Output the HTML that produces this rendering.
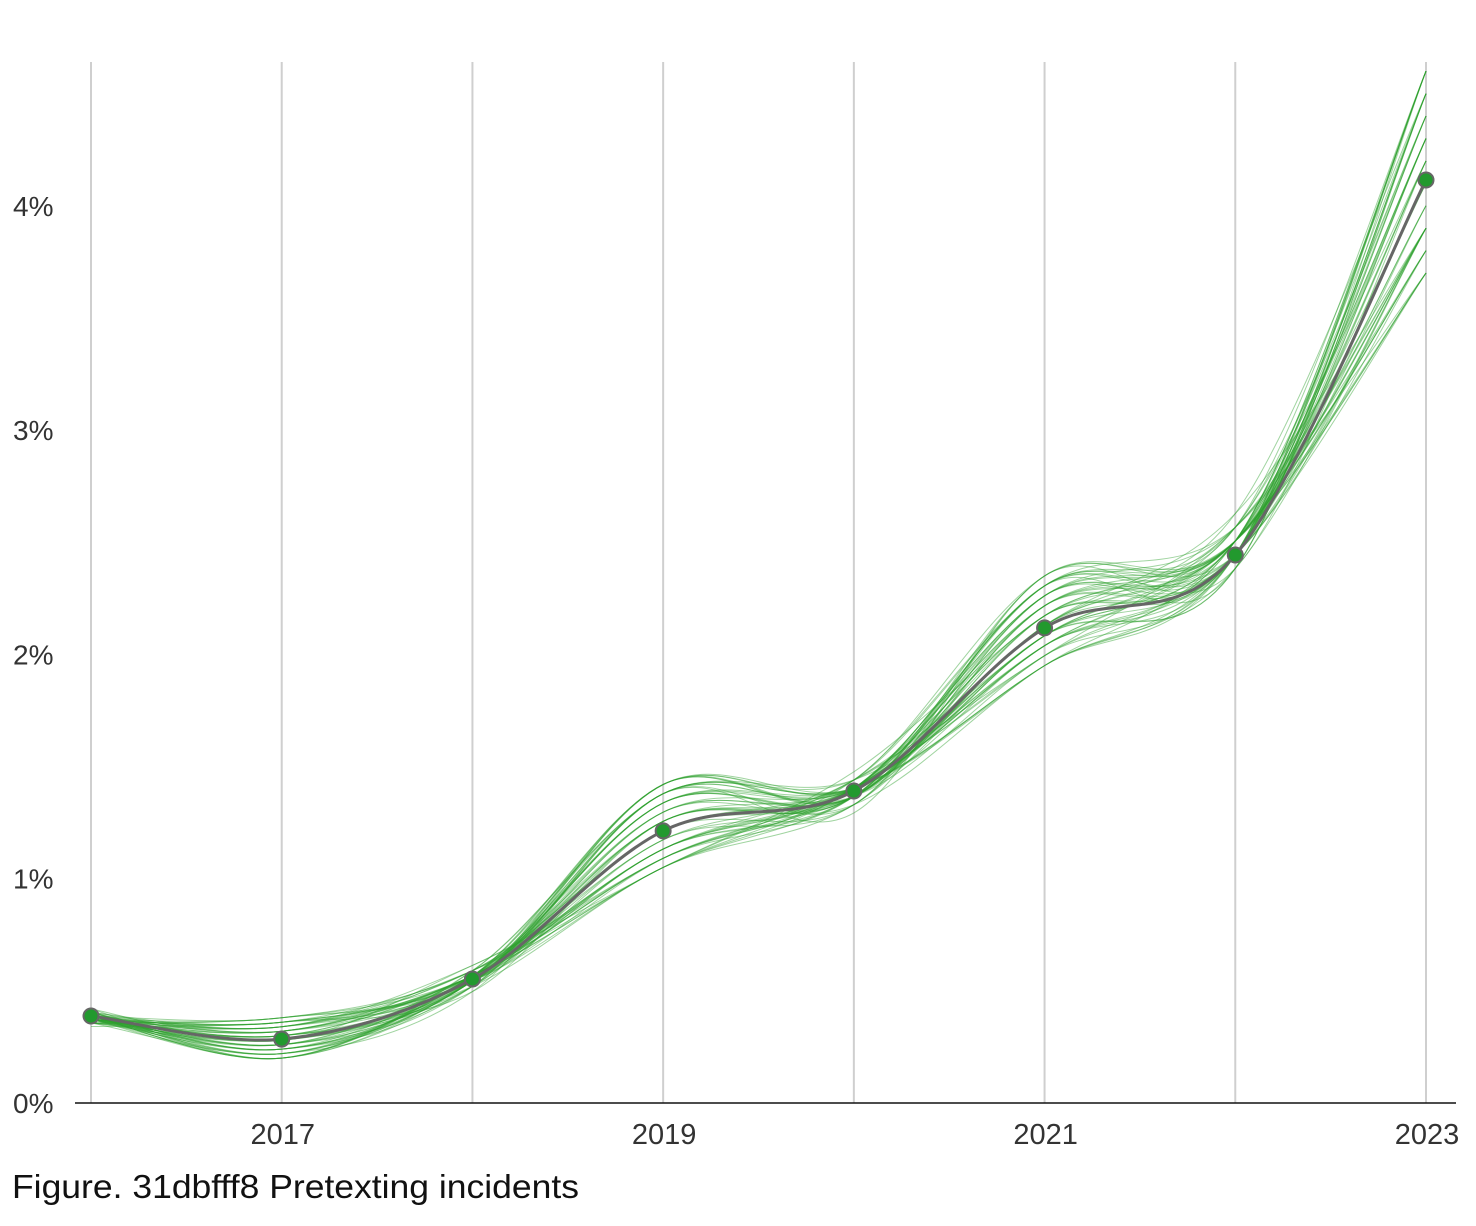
<!DOCTYPE html>
<html><head><meta charset="utf-8"><style>
body{margin:0;background:#fff;}
svg{display:block;font-family:"Liberation Sans",sans-serif;}
</style></head><body>
<svg id="chart" width="1476" height="1226" viewBox="0 0 1476 1226">
<g id="grid"></g>
<g id="samples"></g>
<g id="main"></g>
<g id="axes"></g>
<text x="12" y="1198" font-size="33" fill="#111" textLength="567" lengthAdjust="spacingAndGlyphs">Figure. 31dbfff8 Pretexting incidents</text>
</svg>
<script>
const years = [2016,2017,2018,2019,2020,2021,2022,2023];
const medianValues = [0.388,0.285,0.553,1.213,1.391,2.118,2.443,4.115];
const bandLow = [0.31,0.20,0.45,1.05,1.22,1.95,2.20,3.70];
const bandHigh = [0.45,0.38,0.66,1.42,1.55,2.35,2.75,4.60];
const sampleFractions = [
"46525351","53474650","38415244","61585762","45354839","57636955","42485047","50525549",
"35384140","66615759","48575246","52454856","40333746","59646867","44495054","55505251",
"31282935","70686472","47525648","51474443","43383942","58626365","36424647","63575553",
"49534451","54465258","39443641","62686160","41475049","56514748","34303338","67716869",
"46505652","53485045","37404338","60555861","45515753","52494642","28253032","74707578",
"50464954","48555250","42394547","57606157","44424846","55595356","47444345","51565859",
"39464249","62595462","43515548","56454452","48494752","53525149","45474550","50545356"
];
const yTicks = [0,1,2,3,4];
const xLabelYears = [2017,2019,2021,2023];

const X0=91, X1=1426, Y0=1103, PPU=224.3;
const xs = y => X0 + (y-2016)*(X1-X0)/7;
const ys = v => Y0 - v*PPU;
const NS="http://www.w3.org/2000/svg";
function mk(tag, attrs, parent){const e=document.createElementNS(NS,tag);for(const k in attrs)e.setAttribute(k,attrs[k]);parent.appendChild(e);return e;}
function pathD(pts){
  let d=`M${pts[0][0]},${pts[0][1]}`;
  for(let i=0;i<pts.length-1;i++){
    const p0=pts[Math.max(0,i-1)],p1=pts[i],p2=pts[i+1],p3=pts[Math.min(pts.length-1,i+2)];
    const c1=[p1[0]+(p2[0]-p0[0])/6,p1[1]+(p2[1]-p0[1])/6];
    const c2=[p2[0]-(p3[0]-p1[0])/6,p2[1]-(p3[1]-p1[1])/6];
    d+=` C${c1[0]},${c1[1]} ${c2[0]},${c2[1]} ${p2[0]},${p2[1]}`;
  }
  return d;
}
const grid=document.getElementById('grid');
years.forEach(yr=>{
  const l=mk('line',{x1:xs(yr),x2:xs(yr),y1:62,y2:Y0,stroke:'#cfcfcf','stroke-width':2},grid);
  
  
});
const samples=document.getElementById('samples');
sampleFractions.forEach((s,i)=>{
  const pts=years.map((yr,j)=>{const f=parseInt(s[j])/9;return [xs(yr),ys(bandLow[j]+f*(bandHigh[j]-bandLow[j]))];});
  const p=mk('path',{d:pathD(pts),fill:'none',stroke:'#2ca02c','stroke-width':1,'stroke-opacity':0.45},samples);
  
  
});
const main=document.getElementById('main');
const mpts=years.map((yr,j)=>[xs(yr),ys(medianValues[j])]);
const ml=mk('path',{d:pathD(mpts),fill:'none',stroke:'#666','stroke-width':3},main);


mpts.forEach((p,j)=>{
  const c=mk('circle',{cx:p[0],cy:p[1],r:7.5,fill:'#22992e',stroke:'#666','stroke-width':2},main);
  
  
});
const axes=document.getElementById('axes');
const ax=mk('line',{x1:75,x2:1456,y1:Y0,y2:Y0,stroke:'#111','stroke-width':1.5},axes);


yTicks.forEach(v=>{
  const t=mk('text',{x:13,y:ys(v)+10,'font-size':28,fill:'#333'},axes);
  t.textContent=v+'%';
  
  
});
xLabelYears.forEach(yr=>{
  const t=mk('text',{x:xs(yr)+1,y:1144,'font-size':29,fill:'#333','text-anchor':'middle'},axes);
  t.textContent=yr;
  
  
});
</script>
</body></html>
